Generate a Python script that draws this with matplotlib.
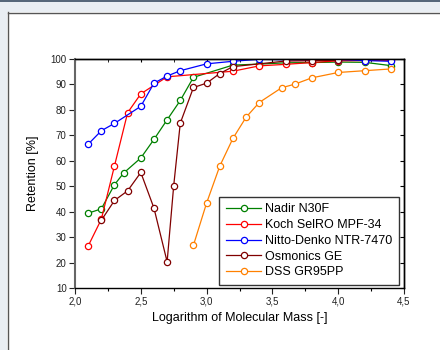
import matplotlib
matplotlib.use('Agg')
import matplotlib.pyplot as plt
from matplotlib.patches import Rectangle
from matplotlib.ticker import MultipleLocator, FormatStrFormatter, FuncFormatter

plt.rcParams['font.family'] = ['Liberation Sans', 'DejaVu Sans']

# log10 of molecular mass vs retention [%]
nadir_x = [2.1, 2.2, 2.3, 2.37, 2.5, 2.6, 2.7, 2.8, 2.9, 3.2, 3.4, 3.6, 3.8, 4.0, 4.2, 4.4]
nadir_r = [39.4, 41.1, 50.6, 55.2, 61.1, 68.4, 76.1, 83.7, 92.8, 97.6, 98.0, 98.5, 98.6, 98.8, 98.7, 97.4]

koch_x = [2.1, 2.2, 2.3, 2.4, 2.5, 2.7, 3.2, 3.4, 3.6, 3.8, 4.0, 4.2, 4.4]
koch_r = [26.5, 37.0, 58.0, 78.9, 86.3, 93.0, 95.2, 97.3, 97.9, 98.6, 99.3, 99.4, 99.5]

nitto_x = [2.1, 2.2, 2.3, 2.5, 2.6, 2.7, 2.8, 3.0, 3.2, 3.4, 3.6, 3.8, 4.0, 4.2, 4.4]
nitto_r = [66.5, 71.8, 74.7, 81.4, 90.5, 93.3, 95.4, 98.1, 99.1, 99.9, 99.7, 99.6, 99.8, 99.4, 99.1]

osmo_x = [2.2, 2.3, 2.4, 2.5, 2.6, 2.7, 2.75, 2.8, 2.9, 3.0, 3.1, 3.2, 3.6, 3.8, 4.0]
osmo_r = [36.6, 44.4, 48.2, 55.4, 41.4, 20.3, 50.2, 74.8, 88.8, 90.5, 94.3, 97.0, 99.2, 99.3, 99.5]

dss_x = [2.9, 3.0, 3.1, 3.2, 3.3, 3.4, 3.57, 3.67, 3.8, 4.0, 4.2, 4.4]
dss_r = [26.8, 43.4, 57.9, 68.8, 77.1, 82.9, 88.7, 90.1, 92.6, 94.7, 95.4, 96.1]

series = [
    (nadir_x, nadir_r, 'Nadir N30F', '#008000'),
    (koch_x, koch_r, 'Koch SelRO MPF-34', '#ff0000'),
    (nitto_x, nitto_r, 'Nitto-Denko NTR-7470', '#0000ff'),
    (osmo_x, osmo_r, 'Osmonics GE', '#800000'),
    (dss_x, dss_r, 'DSS GR95PP', '#ff8000'),
]

fig = plt.figure(figsize=(4.4, 3.5), dpi=100)
fig.patch.set_facecolor('white')

# screenshot-like frame around the panel
W, H = 440.0, 350.0
fig.patches.append(Rectangle((0, 1 - 12 / H), 1, 12 / H, transform=fig.transFigure,
                             facecolor='#e9eef3', edgecolor='none', zorder=0))
fig.patches.append(Rectangle((0, 0), 7 / W, 1, transform=fig.transFigure,
                             facecolor='#e9eef3', edgecolor='none', zorder=0))
fig.patches.append(Rectangle((0, 1 - 1.5 / H), 1, 1.5 / H, transform=fig.transFigure,
                             facecolor='#56677a', edgecolor='none', zorder=1))
fig.lines.append(plt.Line2D([7.5 / W, 7.5 / W], [0, 1 - 12 / H], transform=fig.transFigure,
                            color='#555555', lw=1))
fig.lines.append(plt.Line2D([7.5 / W, 1], [1 - 12.5 / H, 1 - 12.5 / H], transform=fig.transFigure,
                            color='#555555', lw=1))

ax = fig.add_axes([75 / W, 1 - 288 / H, 329 / W, 229 / H])

for xs, rs, name, col in series:
    ax.plot(xs, rs, color=col, lw=0.9, marker='o', markersize=4.5,
            markerfacecolor='white', markeredgecolor=col, markeredgewidth=0.9,
            label=name)

ax.set_xlim(2.0, 4.5)
ax.set_ylim(10, 100)
ax.xaxis.set_major_locator(MultipleLocator(0.5))
ax.xaxis.set_minor_locator(MultipleLocator(0.25))
ax.yaxis.set_major_locator(MultipleLocator(10))
ax.xaxis.set_major_formatter(FuncFormatter(lambda v, p: f'{v:.1f}'.replace('.', ',')))
ax.yaxis.set_major_formatter(FormatStrFormatter('%d'))
ax.tick_params(which='major', direction='out', length=4, width=0.8, labelsize=7, pad=2,
               colors='#222222')
ax.tick_params(which='minor', direction='out', length=2.5, width=0.8)

# inward ticks on the top and right axes
top = ax.secondary_xaxis('top')
top.xaxis.set_major_locator(MultipleLocator(0.5))
top.xaxis.set_minor_locator(MultipleLocator(0.25))
top.tick_params(which='both', direction='in', length=2.5, labeltop=False)
right = ax.secondary_yaxis('right')
right.yaxis.set_major_locator(MultipleLocator(10))
right.tick_params(direction='in', length=3, labelright=False)
for sp in list(top.spines.values()) + list(right.spines.values()):
    sp.set_linewidth(1.0)

for sp in ax.spines.values():
    sp.set_linewidth(1.0)
ax.spines['left'].set_color('#666666')
ax.spines['left'].set_linewidth(1.5)

ax.set_xlabel('Logarithm of Molecular Mass [-]', fontsize=9, labelpad=4)
ax.set_ylabel('Retention [%]', fontsize=9, labelpad=8)

leg = ax.legend(loc='lower right', bbox_to_anchor=(0.985, 0.012), fontsize=9,
                frameon=True, fancybox=False, borderpad=0.55, labelspacing=0.3,
                handlelength=2.8, handletextpad=0.3, borderaxespad=0)
leg.get_frame().set_edgecolor('black')
leg.get_frame().set_linewidth(1.0)

fig.savefig('out.png', dpi=100)
